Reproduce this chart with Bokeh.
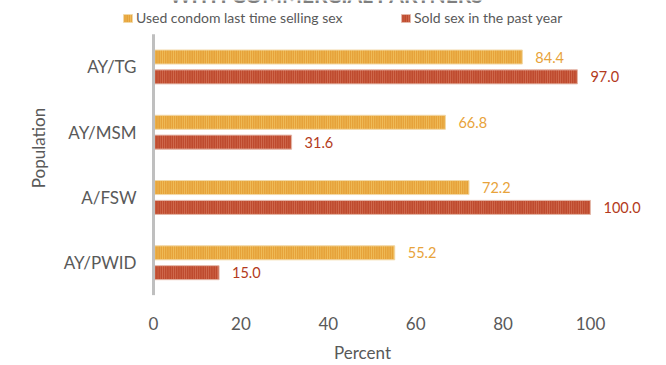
import math
from bokeh.plotting import figure
from bokeh.models import (ColumnDataSource, Range1d, FixedTicker, Legend, LegendItem, Label)
from bokeh.embed import file_html
from bokeh.resources import INLINE

# Data
populations = ["AY/PWID", "A/FSW", "AY/MSM", "AY/TG"]
condom_last_time = [55.2, 72.2, 66.8, 84.4]
sold_past_year = [15.0, 100.0, 31.6, 97.0]
series_names = ["Used condom last time selling sex", "Sold sex in the past year"]
x_ticks = [0, 20, 40, 60, 80, 100]

FONT = "Lato"
GRAY = "#595959"
YELLOW, YELLOW_HATCH, YELLOW_TEXT = "#E6A23A", "#F3C866", "#E8A33A"
RED, RED_HATCH, RED_TEXT = "#BE4A2E", "#DA7E62", "#B33A20"

# one row per population; rows are placed at 0, 1, 2, ... from the bottom
pos = list(range(len(populations)))
bar_h = 0.215
off = 0.152

src = ColumnDataSource(dict(
    pop=populations,
    pos=pos,
    zero=[0] * len(pos),
    y_condom=[y + off for y in pos],
    y_sold=[y - off for y in pos],
    condom=condom_last_time,
    sold=sold_past_year,
    condom_lbl=[f"{v:.1f}" for v in condom_last_time],
    sold_lbl=[f"{v:.1f}" for v in sold_past_year],
))

p = figure(width=666, height=365, output_backend="svg", toolbar_location=None,
           x_range=Range1d(-21.74, 117.39), y_range=Range1d(-0.502, 4.018),
           min_border_left=58, min_border_right=0,
           min_border_top=0, min_border_bottom=68)
p.outline_line_color = None
p.grid.grid_line_color = None

r1 = p.hbar(y="y_condom", left=0, right="condom", height=bar_h, source=src,
            fill_color=YELLOW, line_color="#F2D9A8", line_width=1,
            hatch_pattern="vertical_line", hatch_color=YELLOW_HATCH, hatch_scale=2.2,
            hatch_weight=1, hatch_alpha=0.9)
r2 = p.hbar(y="y_sold", left=0, right="sold", height=bar_h, source=src,
            fill_color=RED, line_color="#E4B8AA", line_width=1,
            hatch_pattern="vertical_line", hatch_color=RED_HATCH, hatch_scale=2.2,
            hatch_weight=1, hatch_alpha=0.8)

# value labels at the bar ends
p.text(x="condom", y="y_condom", text="condom_lbl", source=src,
       x_offset=13, text_baseline="middle", text_align="left",
       text_color=YELLOW_TEXT, text_font_size="14.5px", text_font={"value": FONT})
p.text(x="sold", y="y_sold", text="sold_lbl", source=src,
       x_offset=13, text_baseline="middle", text_align="left",
       text_color=RED_TEXT, text_font_size="14.5px", text_font={"value": FONT})

# category axis: vertical base line and population names
p.segment(x0=0, y0=pos[0] - 0.5, x1=0, y1=pos[-1] + 0.5,
          line_color="#BFBFBF", line_width=3)
p.text(x="zero", y="pos", text="pop", source=src, x_offset=-17,
       text_align="right", text_baseline="middle",
       text_color=GRAY, text_font_size="17px", text_font={"value": FONT})

# value axis
p.xaxis.ticker = FixedTicker(ticks=x_ticks)
p.xaxis.axis_line_color = None
p.xaxis.major_tick_line_color = None
p.xaxis.minor_tick_line_color = None
p.xaxis.major_label_standoff = 15
p.xaxis.major_label_text_font_size = "17px"
p.xaxis.major_label_text_color = GRAY
p.xaxis.major_label_text_font = FONT
p.xaxis.axis_label = "Percent"
p.xaxis.axis_label_standoff = 9
p.xaxis.axis_label_text_font_size = "17px"
p.xaxis.axis_label_text_font_style = "normal"
p.xaxis.axis_label_text_color = GRAY
p.xaxis.axis_label_text_font = FONT

# left axis only carries the title "Population"
p.yaxis.ticker = FixedTicker(ticks=[])
p.yaxis.axis_line_color = None
p.yaxis.major_tick_line_color = None
p.yaxis.minor_tick_line_color = None
p.yaxis.axis_label = "Population"
p.yaxis.axis_label_standoff = 10
p.yaxis.axis_label_text_font_size = "17px"
p.yaxis.axis_label_text_font_style = "normal"
p.yaxis.axis_label_text_color = GRAY
p.yaxis.axis_label_text_font = FONT

# legend above the bars
for rend, name, x in zip([r1, r2], series_names, [64, 342]):
    lg = Legend(items=[LegendItem(label=name, renderers=[rend])],
                location=(x, 269), orientation="horizontal",
                border_line_color=None, background_fill_alpha=0,
                padding=0, margin=0, glyph_width=11, glyph_height=10,
                label_standoff=3, label_text_font_size="14px",
                label_text_color=GRAY, label_text_font=FONT, label_height=14)
    p.add_layout(lg, "center")

# chart title, running past the top edge of the page
p.add_layout(Label(x=268, y=301, x_units="screen", y_units="screen",
                   text="WITH COMMERCIAL PARTNERS", text_align="center",
                   text_baseline="alphabetic", text_font=FONT, text_font_style="bold",
                   text_font_size="21px", text_color="#7F7F7F"))

open("out.html", "w").write(file_html(p, INLINE))
